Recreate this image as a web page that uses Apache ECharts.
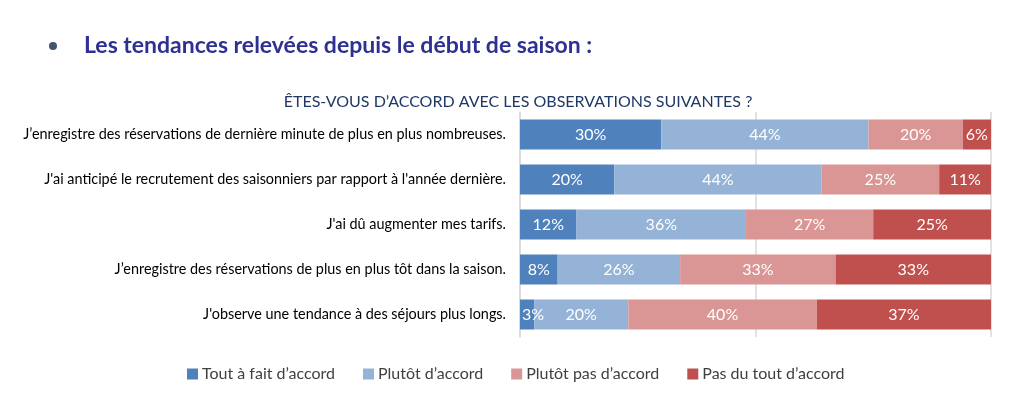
<!DOCTYPE html>
<html><head><meta charset="utf-8">
<script src="https://cdn.jsdelivr.net/npm/echarts@6/dist/echarts.min.js"></script>
<style>html,body{margin:0;padding:0;background:#fff}#c{width:1024px;height:413px}</style>
</head><body><div id="c"></div>
<script>
const categories = [
  "J’enregistre des réservations de dernière minute de plus en plus nombreuses.",
  "J'ai anticipé le recrutement des saisonniers par rapport à l'année dernière.",
  "J'ai dû augmenter mes tarifs.",
  "J’enregistre des réservations de plus en plus tôt dans la saison.",
  "J'observe une tendance à des séjours plus longs."
];
const seriesNames = ["Tout à fait d’accord", "Plutôt d’accord", "Plutôt pas d’accord", "Pas du tout d’accord"];
const toutAFait = [30, 20, 12, 8, 3];
const plutot = [44, 44, 36, 26, 20];
const plutotPas = [20, 25, 27, 33, 40];
const pasDuTout = [6, 11, 25, 33, 37];
const xTicks = [0, 50, 100];

const colors = ['#4F81BD', '#95B3D7', '#D99694', '#C0504D'];
const values = [toutAFait, plutot, plutotPas, pasDuTout];
const FONT = 'Lato';

const chart = echarts.init(document.getElementById('c'), null, {renderer: 'canvas'});
chart.setOption({
  animation: false,
  textStyle: {fontFamily: FONT},
  title: [{
    text: 'Les tendances relevées depuis le début de saison :',
    left: 79, top: 29,
    textStyle: {fontFamily: FONT, fontSize: 23, fontWeight: 'bold', color: '#2E3092'}
  }, {
    text: 'ÊTES-VOUS D’ACCORD AVEC LES OBSERVATIONS SUIVANTES ?',
    top: 89, left: 513, textAlign: 'center',
    textStyle: {fontFamily: FONT, fontSize: 16, fontWeight: 'normal', color: '#1F3864'}
  }],
  graphic: [{type: 'circle', shape: {cx: 53, cy: 46, r: 4}, style: {fill: '#44546A'}}],
  legend: {
    top: 361, left: 182,
    itemWidth: 11, itemHeight: 11, itemGap: 28,
    icon: 'rect',
    textStyle: {fontFamily: FONT, fontSize: 16, color: '#404040', padding: [0, 0, 0, -1]},
    data: seriesNames
  },
  grid: {left: 520, right: 33, top: 112, height: 225},
  xAxis: {
    type: 'value', min: xTicks[0], max: xTicks[xTicks.length-1], interval: 50,
    axisLabel: {show: false}, axisTick: {show: false}, axisLine: {show: false},
    splitLine: {lineStyle: {color: '#D9D9D9', width: 1.5}}
  },
  yAxis: {
    type: 'category', inverse: true, data: categories,
    axisTick: {show: false},
    axisLine: {show: true, lineStyle: {color: '#D9D9D9', width: 1.5}},
    axisLabel: {fontFamily: FONT, fontSize: 14.4, color: '#000', margin: 14}
  },
  series: seriesNames.map((n, i) => ({
    name: n, type: 'bar', stack: 'total', barWidth: 30,
    itemStyle: {color: colors[i]},
    label: {show: true, position: 'inside', formatter: p => p.value + '%', color: '#fff', fontFamily: FONT, fontSize: 16},
    data: values[i].map(v => v < 5 ? {value: v, label: {position: 'insideLeft', offset: [-3, 0]}} : v)
  }))
});
</script></body></html>
